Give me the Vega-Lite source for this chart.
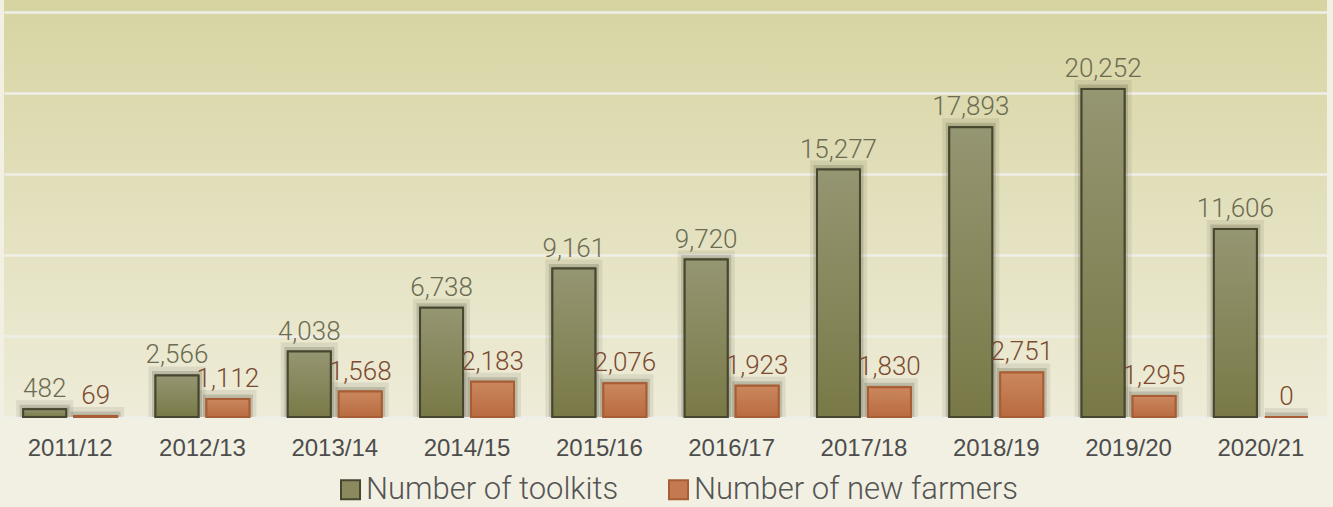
{
  "$schema": "https://vega.github.io/schema/vega-lite/v6.json",
  "width": 1323,
  "height": 417,
  "autosize": {"type": "none"},
  "padding": {"left": 4, "top": 0, "right": 6, "bottom": 90},
  "background": "#f2f0e2",
  "view": {"stroke": null, "fill": {"gradient": "linear", "x1": 0, "y1": 0, "x2": 0, "y2": 1, "stops": [{"offset": 0, "color": "#d7d4a2"}, {"offset": 1, "color": "#eeecd8"}]}},
  "data": {"values": [
    {"year": "2011/12", "series": "Number of toolkits", "value": 482},
    {"year": "2011/12", "series": "Number of new farmers", "value": 69},
    {"year": "2012/13", "series": "Number of toolkits", "value": 2566},
    {"year": "2012/13", "series": "Number of new farmers", "value": 1112},
    {"year": "2013/14", "series": "Number of toolkits", "value": 4038},
    {"year": "2013/14", "series": "Number of new farmers", "value": 1568},
    {"year": "2014/15", "series": "Number of toolkits", "value": 6738},
    {"year": "2014/15", "series": "Number of new farmers", "value": 2183},
    {"year": "2015/16", "series": "Number of toolkits", "value": 9161},
    {"year": "2015/16", "series": "Number of new farmers", "value": 2076},
    {"year": "2016/17", "series": "Number of toolkits", "value": 9720},
    {"year": "2016/17", "series": "Number of new farmers", "value": 1923},
    {"year": "2017/18", "series": "Number of toolkits", "value": 15277},
    {"year": "2017/18", "series": "Number of new farmers", "value": 1830},
    {"year": "2018/19", "series": "Number of toolkits", "value": 17893},
    {"year": "2018/19", "series": "Number of new farmers", "value": 2751},
    {"year": "2019/20", "series": "Number of toolkits", "value": 20252},
    {"year": "2019/20", "series": "Number of new farmers", "value": 1295},
    {"year": "2020/21", "series": "Number of toolkits", "value": 11606},
    {"year": "2020/21", "series": "Number of new farmers", "value": 0}
  ]},
  "encoding": {
    "x": {"field": "year", "type": "nominal", "sort": null, "title": null,
      "scale": {"paddingInner": 0.29, "paddingOuter": 0.145},
      "axis": {"labelAngle": 0, "ticks": false, "domain": false, "labelFont": "Liberation Sans", "labelFontSize": 24, "labelColor": "#4d4d4d", "labelPadding": 19}},
    "xOffset": {"field": "series", "type": "nominal", "sort": ["Number of toolkits", "Number of new farmers"],
      "scale": {"paddingInner": 0.157, "paddingOuter": 0}},
    "y": {"field": "value", "type": "quantitative", "title": null,
      "scale": {"domain": [0, 25741], "nice": false, "zero": true},
      "axis": {"values": [0, 5000, 10000, 15000, 20000, 25000], "labels": false, "ticks": false, "domain": false, "gridColor": "#efefe9", "gridWidth": 2.5}}
  },
  "layer": [
    {
      "mark": {"type": "bar", "clip": true, "fill": "#1e1e08", "fillOpacity": 0.06, "stroke": "#1e1e08", "strokeOpacity": 0.08, "strokeWidth": 14, "xOffset": 2, "yOffset": -2},
      "encoding": {}
    },
    {
      "mark": {"type": "bar", "clip": true, "fill": "#1e1e08", "fillOpacity": 0.06, "stroke": "#1e1e08", "strokeOpacity": 0.16, "strokeWidth": 7, "xOffset": 1, "yOffset": -1},
      "encoding": {}
    },
    {
      "mark": {"type": "bar", "strokeWidth": 2},
      "encoding": {
        "fill": {"field": "series", "type": "nominal", "sort": ["Number of toolkits", "Number of new farmers"],
          "scale": {"domain": ["Number of toolkits", "Number of new farmers"], "range": ["#8a8a5e", "#c47a50"]},
          "legend": {"orient": "none", "legendX": 331, "legendY": 474, "direction": "horizontal", "title": null, "symbolType": "square", "symbolSize": 361, "symbolStrokeWidth": 2, "labelFont": "Roboto", "labelFontWeight": 300, "labelFontSize": 31, "labelLimit": 500, "labelColor": "#555555", "columnPadding": 44, "labelOffset": 0}},
        "stroke": {"field": "series", "type": "nominal", "sort": ["Number of toolkits", "Number of new farmers"],
          "scale": {"domain": ["Number of toolkits", "Number of new farmers"], "range": ["#474730", "#a95d35"]},
          "legend": {"orient": "none", "legendX": 331, "legendY": 474, "direction": "horizontal", "title": null, "symbolType": "square", "symbolSize": 361, "symbolStrokeWidth": 2, "labelFont": "Roboto", "labelFontWeight": 300, "labelFontSize": 31, "labelLimit": 500, "labelColor": "#555555", "columnPadding": 44, "labelOffset": 0}}
      }
    },
    {
      "transform": [{"filter": "datum.series == 'Number of toolkits'"}],
      "mark": {"type": "bar", "strokeWidth": 2, "stroke": "#474730",
        "fill": {"gradient": "linear", "x1": 0, "y1": 0, "x2": 0, "y2": 1, "stops": [{"offset": 0, "color": "#959672"}, {"offset": 1, "color": "#797947"}]}},
      "encoding": {}
    },
    {
      "transform": [{"filter": "datum.series == 'Number of new farmers'"}],
      "mark": {"type": "bar", "strokeWidth": 2, "stroke": "#a95d35",
        "fill": {"gradient": "linear", "x1": 0, "y1": 0, "x2": 0, "y2": 1, "stops": [{"offset": 0, "color": "#cb875e"}, {"offset": 1, "color": "#b96b40"}]}},
      "encoding": {}
    },
    {
      "mark": {"type": "text", "baseline": "alphabetic", "dy": -12, "font": "Roboto", "fontWeight": 300, "fontSize": 26},
      "encoding": {
        "text": {"field": "value", "type": "quantitative", "format": ","},
        "color": {"field": "series", "type": "nominal", "sort": ["Number of toolkits", "Number of new farmers"],
          "scale": {"domain": ["Number of toolkits", "Number of new farmers"], "range": ["#6c6c52", "#7b4a30"]},
          "legend": null}
      }
    }
  ]
}
